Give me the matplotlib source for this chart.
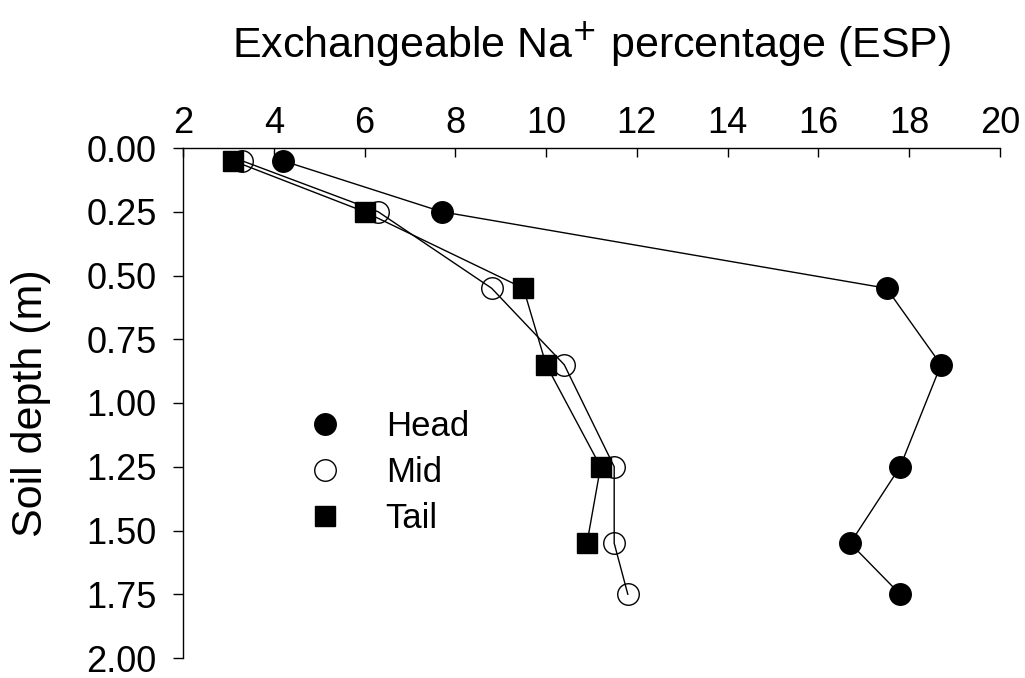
import matplotlib.pyplot as plt
from matplotlib.lines import Line2D
from matplotlib.ticker import FormatStrFormatter

plt.rcParams['font.family'] = ['Liberation Sans', 'DejaVu Sans']

# depths (m) and ESP values
depth = [0.05, 0.25, 0.55, 0.85, 1.25, 1.55, 1.75]
head = [4.2, 7.7, 17.5, 18.7, 17.8, 16.7, 17.8]
mid = [3.3, 6.3, 8.8, 10.4, 11.5, 11.5, 11.8]
tail_depth = [0.05, 0.25, 0.55, 0.85, 1.25, 1.55]
tail = [3.1, 6.0, 9.5, 10.0, 11.2, 10.9]

xticks = [2, 4, 6, 8, 10, 12, 14, 16, 18, 20]
yticks = [0.0, 0.25, 0.5, 0.75, 1.0, 1.25, 1.5, 1.75, 2.0]

fig = plt.figure(figsize=(10.25, 6.78), dpi=100)
ax = fig.add_axes([183 / 1025, 1 - 658 / 678, 817 / 1025, 510 / 678])

ax.plot(head, depth, color='black', lw=1.0, marker='o', ms=15.5,
        mfc='black', mec='black', zorder=3)
ax.plot(mid, depth, color='black', lw=1.0, marker='o', ms=15.5,
        mfc='none', mec='black', mew=1.0, zorder=3)
ax.plot(tail, tail_depth, color='black', lw=1.0, marker='s', ms=14,
        mfc='black', mec='black', zorder=4)

ax.set_xlim(2, 20)
ax.set_ylim(2, 0)
ax.set_xticks(xticks)
ax.set_yticks(yticks)
ax.yaxis.set_major_formatter(FormatStrFormatter('%.2f'))

ax.xaxis.tick_top()
ax.xaxis.set_label_position('top')
for s in ['right', 'bottom']:
    ax.spines[s].set_visible(False)
for s in ['left', 'top']:
    ax.spines[s].set_linewidth(1.0)

ax.tick_params(axis='x', direction='in', length=6.5, width=1.0,
               labelsize=26, pad=5)
ax.tick_params(axis='y', direction='out', length=7, width=1.0,
               labelsize=26, pad=12)

ax.set_xlabel('Exchangeable Na$^{+}$ percentage (ESP)', fontsize=31, labelpad=35)
ax.set_ylabel('Soil depth (m)', fontsize=31, labelpad=25)

handles = [
    Line2D([], [], ls='none', marker='o', ms=15.5, mfc='black', mec='black'),
    Line2D([], [], ls='none', marker='o', ms=15.5, mfc='none', mec='black'),
    Line2D([], [], ls='none', marker='s', ms=14, mfc='black', mec='black'),
]
ax.legend(handles, ['Head', 'Mid', 'Tail'], frameon=False, fontsize=25,
          loc='upper left', bbox_to_anchor=(0.1355, 0.514),
          handlelength=1.0, handletextpad=1.25, labelspacing=0.38,
          borderaxespad=0)

fig.savefig('out.png', dpi=100)
